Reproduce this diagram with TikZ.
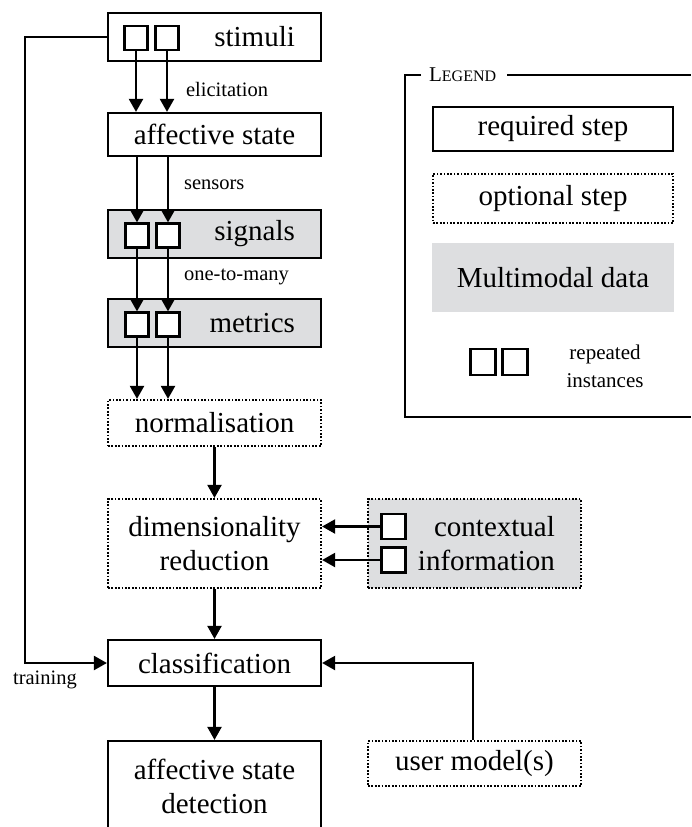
\documentclass[tikz,border=0pt]{standalone}
\usepackage{fontspec}
\setmainfont{Liberation Serif}
\usetikzlibrary{arrows.meta}
\definecolor{mmgray}{RGB}{221,222,224}
\begin{document}
\begin{tikzpicture}[x=1pt,y=-1pt,
  line width=2.2pt,
  bigtxt/.style={font=\fontsize{29}{34}\selectfont},
  smalltxt/.style={font=\fontsize{20.5}{24}\selectfont},
  reqbox/.style={draw, rectangle, inner sep=0pt, bigtxt},
  dotline/.style={line width=2.2pt, dash pattern=on 1.7pt off 1.7pt},
  optbox/.style={draw, rectangle, inner sep=0pt, dotline, bigtxt},
  databox/.style={reqbox, fill=mmgray},
  inst/.style={draw, rectangle, fill=white, inner sep=0pt, minimum width=23pt, minimum height=24pt},
  arr/.style={-{Triangle[length=13pt,width=14pt]}},
  lbl/.style={smalltxt, anchor=west, inner sep=0pt}
]
\useasboundingbox (0,0) rectangle (691,827);
\clip (0,0) rectangle (691,827);

% main column
\node[reqbox, minimum width=213pt, minimum height=48pt] (stim) at (214.5,37) {};
\node[bigtxt, anchor=east, inner sep=0pt] (stimt) at (296,37) {stimuli};
\node[inst] (s1) at (136,38) {};
\node[inst] (s2) at (167,38) {};

\node[reqbox, minimum width=213pt, minimum height=43pt] (aff) at (214.5,134.5) {affective state};

\node[databox, minimum width=213pt, minimum height=48pt] (sig) at (214.5,234) {};
\node[bigtxt, anchor=east, inner sep=0pt] (sigt) at (296,234) {signals};
\node[inst] (g1) at (137,235.5) {};
\node[inst] (g2) at (168,235.5) {};

\node[databox, minimum width=213pt, minimum height=48pt] (met) at (214.5,323) {};
\node[bigtxt, anchor=east, inner sep=0pt] (mett) at (296,323) {metrics};
\node[inst] (m1) at (137,324.5) {};
\node[inst] (m2) at (168,324.5) {};

\node[optbox, minimum width=213pt, minimum height=46pt] (norm) at (214.5,423) {normalisation};

\node[optbox, minimum width=213pt, minimum height=89pt, align=center] (dim) at (214.5,543.5) {dimensionality\\reduction};

\node[databox, dotline, minimum width=213pt, minimum height=89pt] (ctx) at (474.5,543.5) {};
\node[bigtxt, anchor=east, inner sep=0pt] (ctxa) at (556,527) {contextual};
\node[bigtxt, anchor=east, inner sep=0pt] (ctxb) at (556,560) {information};
\node[inst, minimum width=24pt, minimum height=25pt] (c1) at (393.5,526.5) {};
\node[inst, minimum width=24pt, minimum height=25pt] (c2) at (393.5,560) {};

\node[reqbox, minimum width=213pt, minimum height=46pt] (cls) at (214.5,663) {classification};

\node[optbox, minimum width=213pt, minimum height=45pt] (user) at (474.5,763.5) {user model(s)};

\node[reqbox, minimum width=213pt, minimum height=130pt] (det) at (214.5,806) {};
\node[bigtxt, align=center, inner sep=0pt] (dett) at (214.5,786) {affective state\\detection};

% connectors
\draw[arr] (s1.south) -- (s1.south |- aff.north);
\draw[arr] (s2.south) -- (s2.south |- aff.north);
\node[lbl] (elic) at (185,89) {elicitation};

\draw[arr] (g1.north |- aff.south) -- (g1.north);
\draw[arr] (g2.north |- aff.south) -- (g2.north);
\node[lbl] (sens) at (183,185) {sensors};

\draw[arr] (g1.south) -- (m1.north);
\draw[arr] (g2.south) -- (m2.north);
\node[lbl] (otm) at (183,277) {one-to-many};

\draw[arr] (m1.south) -- (m1.south |- norm.north);
\draw[arr] (m2.south) -- (m2.south |- norm.north);

\draw[arr] (norm.south) -- (dim.north);
\draw[arr] (c1.west) -- (c1.west -| dim.east);
\draw[arr] (c2.west) -- (c2.west -| dim.east);
\draw[arr] (dim.south) -- (cls.north);
\draw[arr] (cls.south) -- (det.north);

\coordinate (tl) at (25,37);
\coordinate (tb) at (25,663);
\draw[arr] (stim.west) -- (tl) -- (tb) -- (cls.west);
\node[smalltxt, anchor=west, inner sep=0pt] (train) at (12,680) {training};

\coordinate (uc) at (473,663);
\draw[arr] (user.north -| uc) -- (uc) -- (cls.east);

% legend
\node[inner sep=0pt, anchor=west] (legt) at (428,75) {\fontsize{21}{24}\selectfont L\fontsize{16}{20}\selectfont EGEND};
\coordinate (lg1) at (405,75);
\coordinate (lg2) at (405,417);
\coordinate (lg3) at (691,417);
\coordinate (lg4) at (691,75);
\draw[line width=1.8pt] (421,75) -- (lg1) -- (lg2) -- (lg3);
\draw[line width=1.8pt] (507,75) -- (lg4);

\node[reqbox, minimum width=240pt, minimum height=44pt] (lreq) at (553,129) {required step};
\node[optbox, minimum width=240pt, minimum height=49pt] (lopt) at (553,198.5) {optional step};
\node[rectangle, fill=mmgray, inner sep=0pt, minimum width=242pt, minimum height=69pt, bigtxt] (ldata) at (553,277.5) {Multimodal data};
\node[inst, minimum width=25pt, minimum height=26pt] (li1) at (483,362) {};
\node[inst, minimum width=25pt, minimum height=26pt] (li2) at (515,362) {};
\node[font=\fontsize{21}{28}\selectfont, align=center, inner sep=0pt] (lrep) at (605,366) {repeated\\instances};
\end{tikzpicture}
\end{document}
